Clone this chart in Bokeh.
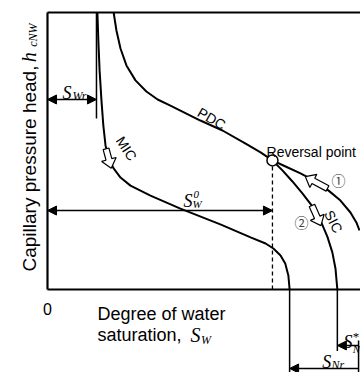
import math
from bokeh.plotting import figure
from bokeh.models import Range1d, Arrow, NormalHead
from bokeh.core.properties import value
from bokeh.embed import file_html
from bokeh.resources import INLINE

# ---- schematic data (S_W: degree of water saturation 0..1, h: capillary head 0..1) ----
pdc_s = [0.212, 0.221, 0.234, 0.253, 0.282, 0.317, 0.353, 0.394, 0.426, 0.490, 0.561, 0.635, 0.683, 0.721]
pdc_h = [1.000, 0.935, 0.870, 0.809, 0.755, 0.715, 0.686, 0.664, 0.646, 0.610, 0.574, 0.527, 0.495, 0.466]

mic_s = [0.160, 0.163, 0.167, 0.173, 0.179, 0.186, 0.196, 0.212, 0.234, 0.266, 0.330, 0.426, 0.554, 0.651, 0.699, 0.724, 0.747, 0.762, 0.772, 0.776]
mic_h = [1.000, 0.899, 0.791, 0.682, 0.592, 0.520, 0.473, 0.437, 0.404, 0.375, 0.339, 0.292, 0.235, 0.188, 0.166, 0.148, 0.123, 0.094, 0.051, 0.000]

sic_s = [0.721, 0.753, 0.785, 0.817, 0.849, 0.875, 0.897, 0.913, 0.923, 0.929]
sic_h = [0.466, 0.430, 0.390, 0.347, 0.300, 0.249, 0.191, 0.134, 0.076, 0.000]

p1_s = [0.721, 0.763, 0.811, 0.859, 0.901, 0.939, 0.971, 0.990, 1.000]
p1_h = [0.466, 0.444, 0.419, 0.390, 0.357, 0.321, 0.278, 0.242, 0.213]

reversal_s, reversal_h = 0.721, 0.466
s_wr = 0.157          # residual water saturation
s_nr_edge = 0.776     # 1 - S_Nr
s_nr_star_edge = 0.929  # 1 - S*_Nr

# ---- figure: data space mapped so that 1 unit = 312 px (x), 277 px (y) ----
X0, X1 = -0.1506, 1.0032
Y0, Y1 = -0.2996, 1.0433
W, H = 360, 372
PX, PY = W / (X1 - X0), H / (Y1 - Y0)

p = figure(width=W, height=H, x_range=Range1d(X0, X1), y_range=Range1d(Y0, Y1),
           output_backend="svg", toolbar_location=None,
           x_axis_type=None, y_axis_type=None, min_border=0)
p.outline_line_color = None
p.background_fill_color = "white"
p.border_fill_color = "white"

BLK = "black"
# frame (axes)
p.line([0, 0], [0, 1.0], line_width=2.2, color=BLK)
p.line([0, 1.1], [1.0, 1.0], line_width=2.2, color=BLK)
p.line([0, 1.1], [0, 0], line_width=2.2, color=BLK)

# curves
for xs, ys in [(pdc_s, pdc_h), (mic_s, mic_h), (sic_s, sic_h), (p1_s, p1_h)]:
    p.line(xs, ys, line_width=2, color=BLK)

# residual water saturation vertical line
p.line([s_wr, s_wr], [1.0, 0.617], line_width=1.5, color=BLK)
# dashed line from reversal point
p.line([reversal_s, reversal_s], [0, reversal_h], line_width=1.3, color=BLK, line_dash="4 3")

# markers below axis
p.line([s_nr_edge, s_nr_edge], [0, -0.30], line_width=1.5, color=BLK)
p.line([s_nr_star_edge, s_nr_star_edge], [0, -0.222], line_width=1.5, color=BLK)
p.line([0.997, 0.997], [-0.184, -0.30], line_width=1.5, color=BLK)

# dimension arrows
def dim_arrow(x0, x1, y, both=True):
    head = lambda: NormalHead(size=9, fill_color=BLK, line_color=BLK, line_width=1)
    p.add_layout(Arrow(x_start=x0, y_start=y, x_end=x1, y_end=y,
                       start=head() if both else None, end=head(),
                       line_width=1.5, line_color=BLK))

dim_arrow(s_wr, 0, 0.686)
dim_arrow(reversal_s, 0, 0.285)
p.add_layout(Arrow(x_start=0.997, y_start=-0.202, x_end=s_nr_star_edge, y_end=-0.202,
                   end=NormalHead(size=9, fill_color=BLK, line_color=BLK),
                   line_width=1.5, line_color=BLK))
p.add_layout(Arrow(x_start=0.997, y_start=-0.285, x_end=s_nr_edge, y_end=-0.285,
                   end=NormalHead(size=9, fill_color=BLK, line_color=BLK),
                   line_width=1.5, line_color=BLK))

# block (hollow) arrows
def block(cx, cy, ang, L=20, sw=3, hw=7.5, hl=9):
    a = math.radians(ang)
    pts = [(-L/2, -sw), (L/2-hl, -sw), (L/2-hl, -hw), (L/2, 0), (L/2-hl, hw), (L/2-hl, sw), (-L/2, sw)]
    xs, ys = [], []
    for u, v in pts:
        dx = u*math.cos(a) - v*math.sin(a)
        dy = u*math.sin(a) + v*math.cos(a)
        xs.append(cx + dx/PX)
        ys.append(cy + dy/PY)
    return xs, ys

for cx, cy, ang, L in [(0.196, 0.473, -75, 20), (0.862, 0.386, 152, 25), (0.862, 0.267, -66, 22)]:
    bx, by = block(cx, cy, ang, L)
    p.patch(bx, by, fill_color="white", line_color=BLK, line_width=1.2)

# reversal point
p.scatter([reversal_s], [reversal_h], size=11, fill_color="white", line_color=BLK, line_width=1.5)

SANS = value("Liberation Sans")
SERIF = value("Liberation Serif")

def txt(x, y, t, size, font=SANS, style="normal", angle=0, align="left", base="alphabetic", color=BLK):
    p.text([x], [y], text=[t], text_font=font, text_font_size=size, text_font_style=style,
           angle=angle, text_align=align, text_baseline=base, text_color=color)

# axis label (rotated)
txt(-0.0577, 0.065, "Capillary pressure head,", "19px", angle=math.pi/2)
txt(-0.0577, 0.820, "h", "20px", font=SERIF, style="italic", angle=math.pi/2)
txt(-0.047, 0.876, "cNW", "12px", font=SERIF, style="italic", angle=math.pi/2)

# x label
txt(0.0, -0.072, "0", "16px", align="center")
txt(0.160, -0.090, "Degree of water", "18px")
txt(0.160, -0.166, "saturation,", "18px")
txt(0.458, -0.166, "S", "20px", font=SERIF, style="italic")
txt(0.492, -0.181, "W", "12px", font=SERIF, style="italic")

# curve labels
txt(0.526, 0.617, "PDC", "14px", angle=math.radians(-30), align="center", base="middle")
txt(0.253, 0.509, "MIC", "14px", angle=math.radians(-57), align="center", base="middle")
txt(0.917, 0.245, "SIC", "14px", angle=math.radians(-63), align="center", base="middle")
txt(0.702, 0.498, "Reversal point", "14px")
CJK = value("Noto Sans CJK JP")
txt(0.933, 0.394, "①", "14px", font=CJK, align="center", base="middle", color="#444444")
txt(0.814, 0.245, "②", "14px", font=CJK, align="center", base="middle", color="#444444")

# symbols
txt(0.048, 0.711, "S", "18px", font=SERIF, style="italic")
txt(0.080, 0.700, "Wr", "12px", font=SERIF, style="italic")
txt(0.436, 0.318, "S", "18px", font=SERIF, style="italic")
txt(0.468, 0.343, "0", "11px", font=SERIF, style="italic")
txt(0.465, 0.307, "W", "11px", font=SERIF, style="italic")
txt(0.949, -0.188, "S", "18px", font=SERIF, style="italic")
txt(0.978, -0.168, "*", "13px", font=SERIF)
txt(0.978, -0.213, "Nr", "11px", font=SERIF, style="italic")
txt(0.881, -0.260, "S", "18px", font=SERIF, style="italic")
txt(0.910, -0.274, "Nr", "12px", font=SERIF, style="italic")

open("out.html", "w").write(file_html(p, INLINE))
